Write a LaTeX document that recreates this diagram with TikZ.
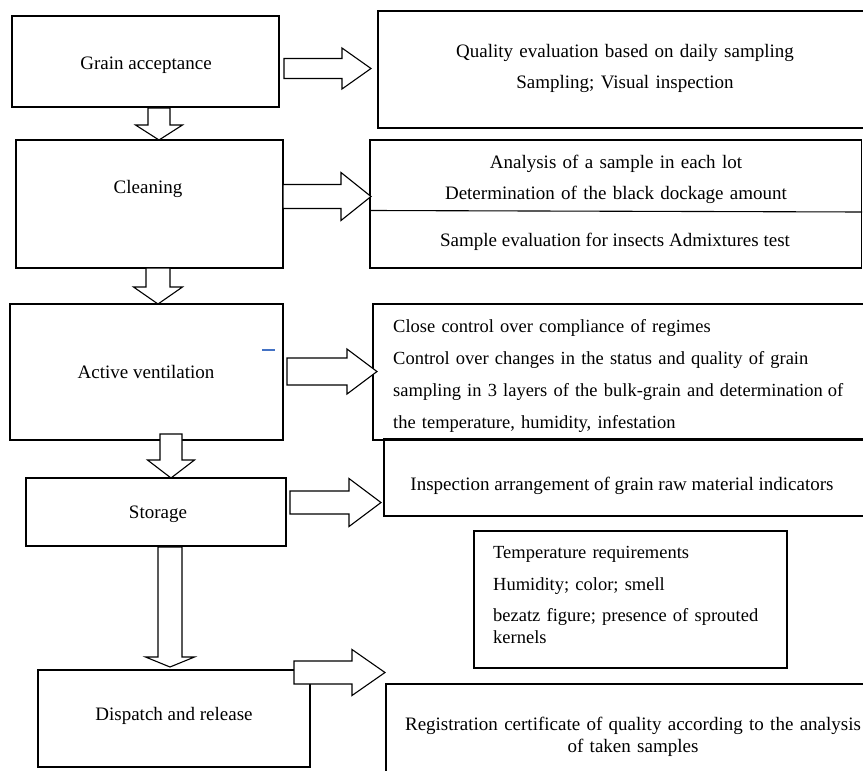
\documentclass[tikz,border=0pt]{standalone}
\usepackage{fontspec}
\setmainfont{Liberation Serif}
% block arrows: start, shaft length, shaft half width, head half width, head length
\newcommand{\rightarr}[5]{\draw[blockarr] #1 ++(0,-#3) -- ++(#2,0) -- ++(0,#3-#4) -- ++(#5,#4) -- ++(-#5,#4) -- ++(0,#3-#4) -- ++(-#2,0) -- cycle;}
\newcommand{\downarr}[5]{\draw[blockarr] #1 ++(-#3,0) -- ++(0,#2) -- ++(#3-#4,0) -- ++(#4,#5) -- ++(#4,-#5) -- ++(#3-#4,0) -- ++(0,-#2) -- cycle;}
\begin{document}
\begin{tikzpicture}[x=1pt, y=-1pt,
  stagebox/.style={draw, line width=1.1pt, inner sep=0pt, outer sep=0pt, anchor=north west},
  blockarr/.style={draw, fill=white, line width=1.1pt, line join=miter},
  txt/.style={font=\fontsize{19}{22}\selectfont, inner sep=0pt, anchor=base},
  smalltxt/.style={txt, font=\fontsize{18.5}{22}\selectfont, align=left, anchor=base west}]
\clip (0,0) rectangle (863,771);
% Define boxes
\node[stagebox, minimum width=267, minimum height=91] (grain) at (12,16) {};
\node[stagebox, minimum width=520, minimum height=117] (quality) at (378,11) {};
\node[stagebox, minimum width=267, minimum height=128] (clean) at (16,140) {};
\node[stagebox, minimum width=491.5, minimum height=128] (analysis) at (370,140) {};
\node[stagebox, minimum width=273, minimum height=136] (vent) at (10,304) {};
\node[stagebox, minimum width=520, minimum height=136] (control) at (373,304) {};
\node[stagebox, minimum width=260, minimum height=68] (storage) at (26,478) {};
\node[stagebox, minimum width=520, minimum height=77] (inspect) at (384,439) {};
\node[stagebox, minimum width=313, minimum height=137] (temper) at (474,531) {};
\node[stagebox, minimum width=272, minimum height=97] (dispatch) at (38,670) {};
\node[stagebox, minimum width=520, minimum height=120] (regist) at (386,684) {};
\draw[line width=1.1pt] (371,210.5) -- (862,212);
\draw[line width=1.5pt, color={rgb,255:red,68;green,114;blue,196}] (262,350) -- (275,350);
% Define texts
\node[txt] (grainT) at (146,69) {Grain acceptance};
\node[txt, text width=440, align=center] (qualityT) at (625,57) {Quality evaluation based on daily sampling\\[9pt] Sampling; Visual inspection};
\node[txt] (cleanT) at (148,193) {Cleaning};
\node[txt, text width=440, align=center] (analysisT) at (616,168) {Analysis of a sample in each lot\\[9pt] Determination of the black dockage amount};
\node[txt] (analysisT2) at (615,246) {Sample evaluation for insects Admixtures test};
\node[txt] (ventT) at (146,378) {Active ventilation};
\node[smalltxt, text width=520] (controlT) at (393,332) {Close control over compliance of regimes\\[10pt] Control over changes in the status and quality of grain\\[10pt] sampling in 3 layers of the bulk-grain and determination\kern-1pt{} of\\[10pt] the temperature, humidity, infestation};
\node[txt] (storageT) at (158,518) {Storage};
\node[txt] (inspectT) at (622,490) {Inspection arrangement of grain raw material indicators};
\node[smalltxt, text width=290] (temperT) at (493,558) {Temperature requirements\\[10pt] Humidity; color; smell\\[9pt] bezatz figure; presence of sprouted\\ kernels};
\node[txt] (dispatchT) at (174,720) {Dispatch and release};
\node[txt, text width=470, align=center] (registT) at (633,730) {Registration certificate of quality according to the analysis\\ of taken samples};
% Define arrows
\rightarr{(284,68.5)}{58}{10}{20.5}{29}
\rightarr{(283,196.5)}{58}{12}{24}{30}
\rightarr{(287,371.5)}{60}{13.5}{22.5}{30}
\rightarr{(290,502.5)}{59}{11.5}{24}{32}
\downarr{(159,108)}{17}{11}{23.5}{15}
\downarr{(158,268)}{19}{12}{24.5}{17}
\downarr{(171,434)}{26}{11}{23.5}{18}
\downarr{(170,547)}{110}{12}{24.5}{10}
\rightarr{(294,672.5)}{58}{11.5}{23}{33}
\end{tikzpicture}
\end{document}
